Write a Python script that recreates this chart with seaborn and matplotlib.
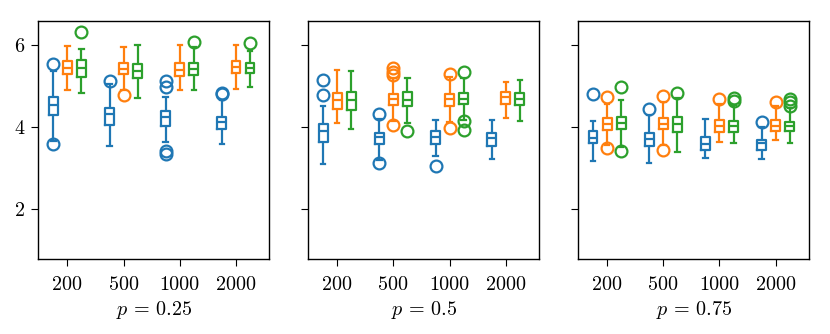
import matplotlib
matplotlib.use("Agg")
import matplotlib.pyplot as plt
import pandas as pd
import seaborn as sns

plt.rcParams.update({
    "font.family": "serif",
    "font.serif": ["cmr10"],
    "mathtext.fontset": "cm",
    "axes.formatter.use_mathtext": True,
    "font.size": 14.5,
    "axes.linewidth": 1.0,
    "xtick.major.size": 5,
    "ytick.major.size": 5,
    "xtick.major.pad": 7.5,
    "ytick.major.pad": 4.5,
})

ns = [200, 500, 1000, 2000]
ps = [0.25, 0.5, 0.75]
methods = ["a", "b", "c"]
colors = ["#1f77b4", "#ff7f0e", "#2ca02c"]

# box summaries, rows = method (blue, orange, green), cols = n
# p = 0.25
q1_25 = [[4.28, 4.05, 4.02, 3.94], [5.29, 5.29, 5.23, 5.31], [5.21, 5.20, 5.27, 5.31]]
med_25 = [[4.54, 4.31, 4.23, 4.13], [5.43, 5.41, 5.39, 5.46], [5.43, 5.37, 5.41, 5.43]]
q3_25 = [[4.72, 4.47, 4.39, 4.25], [5.60, 5.57, 5.57, 5.61], [5.62, 5.53, 5.57, 5.55]]
lo_25 = [[3.66, 3.54, 3.64, 3.58], [4.89, 4.90, 4.89, 4.92], [4.82, 4.71, 4.89, 4.96]]
hi_25 = [[5.36, 5.05, 4.74, 4.66], [5.98, 5.96, 6.00, 6.00], [5.90, 6.00, 5.95, 5.85]]
fl_25 = [[[5.53, 3.58], [5.13], [5.12, 4.98, 3.41, 3.34], [4.80, 4.82]],
         [[], [4.78], [], []],
         [[6.31], [], [6.07], [6.04]]]

# p = 0.5
q1_50 = [[3.63, 3.59, 3.58, 3.54], [4.43, 4.53, 4.52, 4.56], [4.41, 4.52, 4.56, 4.54]]
med_50 = [[3.90, 3.74, 3.75, 3.72], [4.66, 4.68, 4.68, 4.72], [4.66, 4.66, 4.68, 4.68]]
q3_50 = [[4.07, 3.86, 3.89, 3.85], [4.82, 4.81, 4.81, 4.85], [4.86, 4.84, 4.83, 4.82]]
lo_50 = [[3.09, 3.20, 3.28, 3.22], [4.10, 4.15, 4.12, 4.21], [3.95, 4.09, 4.17, 4.15]]
hi_50 = [[4.51, 4.20, 4.17, 4.17], [5.39, 5.18, 5.22, 5.09], [5.37, 5.20, 5.20, 5.15]]
fl_50 = [[[4.77, 5.15], [4.31, 3.11], [3.05], []],
         [[], [5.27, 5.35, 5.43, 4.05], [5.30, 3.97], []],
         [[], [3.91], [5.33, 4.14, 3.92], []]]

# p = 0.75
q1_75 = [[3.60, 3.54, 3.44, 3.44], [3.93, 3.95, 3.88, 3.89], [3.94, 3.88, 3.88, 3.89]]
med_75 = [[3.72, 3.70, 3.59, 3.60], [4.07, 4.08, 4.01, 4.02], [4.10, 4.07, 4.01, 4.01]]
q3_75 = [[3.91, 3.85, 3.76, 3.69], [4.21, 4.22, 4.17, 4.16], [4.24, 4.23, 4.15, 4.13]]
lo_75 = [[3.17, 3.11, 3.24, 3.22], [3.55, 3.56, 3.64, 3.67], [3.50, 3.38, 3.60, 3.60]]
hi_75 = [[4.15, 4.28, 4.20, 4.00], [4.55, 4.60, 4.55, 4.50], [4.66, 4.70, 4.54, 4.45]]
fl_75 = [[[4.80], [4.43], [], [4.12]],
         [[4.72, 3.48], [4.75, 3.44], [4.68], [4.60]],
         [[4.98, 3.42], [4.82], [4.62, 4.70], [4.51, 4.60, 4.69]]]

panels = {
    0.25: (q1_25, med_25, q3_25, lo_25, hi_25, fl_25),
    0.5: (q1_50, med_50, q3_50, lo_50, hi_50, fl_50),
    0.75: (q1_75, med_75, q3_75, lo_75, hi_75, fl_75),
}

# turn each summary back into a sample whose boxplot stats reproduce it
rows = []
for p, (q1, med, q3, lo, hi, fl) in panels.items():
    for i, m in enumerate(methods):
        for j, n in enumerate(ns):
            sample = fl[i][j] + [lo[i][j], hi[i][j]]
            sample += [q1[i][j]] * 10 + [med[i][j]] * 10 + [q3[i][j]] * 10
            for v in sample:
                rows.append({"p": p, "method": m, "n": n, "val": v})
df = pd.DataFrame(rows)

fig, axes = plt.subplots(1, 3, figsize=(8.3, 3.34), dpi=100, sharey=True)
fig.subplots_adjust(left=0.0461, right=0.975, bottom=0.224, top=0.938, wspace=0.168)

for ax, p in zip(axes, ps):
    sub = df[df["p"] == p]
    sns.boxplot(
        data=sub, x="n", y="val", hue="method",
        order=ns, hue_order=methods, palette=colors, saturation=1,
        fill=False, width=0.75, gap=0.4, linewidth=1.6, fliersize=8.5,
        flierprops=dict(marker="o", markerfacecolor="none", markeredgewidth=1.6),
        legend=False, ax=ax,
    )
    ax.set_xlabel(f"$p \\,=\\, {p}$", labelpad=3)
    ax.set_ylabel("")
    ax.set_xlim(-0.52, 3.6)

axes[0].set_ylim(0.77, 6.59)
axes[0].set_yticks([2, 4, 6])

plt.savefig("out.png", dpi=100)
